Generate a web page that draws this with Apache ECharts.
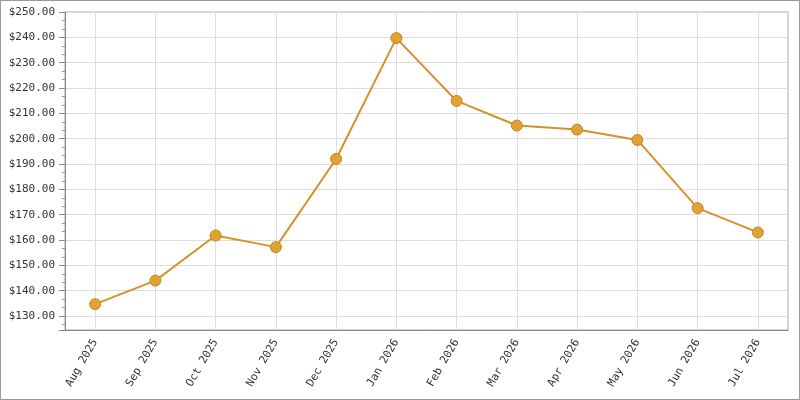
<!DOCTYPE html>
<html>
<head>
<meta charset="utf-8">
<script src="https://cdn.jsdelivr.net/npm/echarts@6/dist/echarts.min.js"></script>
<style>
  body { margin: 0; }
  #chart { width: 800px; height: 400px; border: 1px solid #999; box-sizing: border-box; background: #fff; }
</style>
</head>
<body>
<div id="chart"></div>
<script>
const months = ['Aug 2025', 'Sep 2025', 'Oct 2025', 'Nov 2025', 'Dec 2025', 'Jan 2026',
  'Feb 2026', 'Mar 2026', 'Apr 2026', 'May 2026', 'Jun 2026', 'Jul 2026']
const prices = [134.7, 144.0, 161.8, 157.2, 192.0, 239.7, 214.9, 205.2, 203.6, 199.5, 172.6, 163.0]
const yMin = 124.5
const yMax = 250

const font = 'DejaVu Sans Mono'
const myChart = echarts.init(document.getElementById('chart'))
myChart.setOption({
  animation: false,
  grid: {
    left: 64, top: 11, right: 11, bottom: 69,
    show: true, borderColor: '#aaa', borderWidth: 1
  },
  xAxis: {
    type: 'category',
    data: months,
    boundaryGap: true,
    axisLine: { lineStyle: { color: '#888' } },
    axisTick: { alignWithLabel: true, length: 6, lineStyle: { color: '#888' } },
    splitLine: { show: true, alignWithLabel: true, lineStyle: { color: '#ddd' } },
    axisLabel: { rotate: 60, fontFamily: font, fontSize: 11, color: '#333', margin: 10 }
  },
  yAxis: {
    type: 'value',
    min: yMin,
    max: yMax,
    splitNumber: 12,
    axisLine: { show: true, lineStyle: { color: '#888' } },
    axisTick: { show: true, length: 6, lineStyle: { color: '#888' } },
    minorTick: { show: true, splitNumber: 3, length: 3, lineStyle: { color: '#999' } },
    splitLine: { lineStyle: { color: '#ddd' } },
    axisLabel: {
      showMinLabel: false,
      fontFamily: font, fontSize: 11, color: '#333', margin: 10,
      formatter: v => '$' + v.toFixed(2)
    }
  },
  series: [{
    type: 'line',
    data: prices,
    symbol: 'circle',
    symbolSize: 11,
    lineStyle: { color: '#D4922A', width: 2 },
    itemStyle: { color: '#E0A234', borderColor: '#C4861E', borderWidth: 1 }
  }]
})
</script>
</body>
</html>
